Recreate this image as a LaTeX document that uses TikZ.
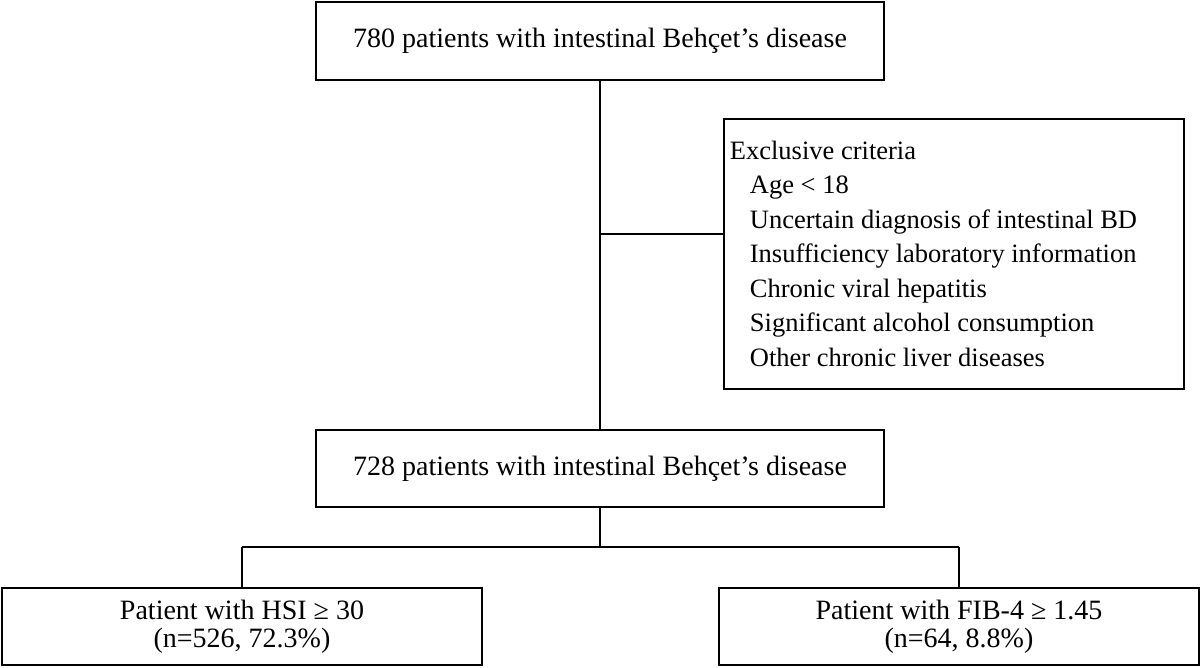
\documentclass[tikz,border=0pt]{standalone}
\usepackage{fontspec}
\setmainfont{Liberation Serif}
\begin{document}
\begin{tikzpicture}[x=1pt,y=-1pt,line width=1.8pt,
  bx/.style={draw,inner sep=0pt,font=\fontsize{28}{34}\selectfont,align=center}]
\useasboundingbox (0,0) rectangle (1200,667);
\node[bx,minimum width=568pt,minimum height=78pt] (top) at (600,41) {780 patients with intestinal Behçet’s disease};
\node[bx,minimum width=460pt,minimum height=270pt,align=flush left,text width=448pt,inner xsep=6pt,anchor=north west,font=\fontsize{26.5}{34.5}\selectfont] (ex) at (723,118) {Exclusive criteria\\
\hspace*{20pt}Age < 18\\
\hspace*{20pt}Uncertain diagnosis of intestinal BD\\
\hspace*{20pt}Insufficiency laboratory information\\
\hspace*{20pt}Chronic viral hepatitis\\
\hspace*{20pt}Significant alcohol consumption\\
\hspace*{20pt}Other chronic liver diseases};
\node[bx,minimum width=568pt,minimum height=77pt] (mid) at (600,468.5) {728 patients with intestinal Behçet’s disease};
\node[bx,minimum width=480pt,minimum height=77pt,font=\fontsize{28}{28}\selectfont] (bl) at (242,626.5) {Patient with HSI ≥ 30\\(n=526, 72.3\%)};
\node[bx,minimum width=480pt,minimum height=77pt,font=\fontsize{28}{28}\selectfont] (br) at (959,626.5) {Patient with FIB-4 ≥ 1.45\\(n=64, 8.8\%)};
\draw (top.south) -- (mid.north);
\coordinate (j) at (600,234);
\draw (j) -- (ex.west |- j);
\coordinate (s) at (600,547);
\draw (mid.south) -- (s);
\draw (bl.north |- s) -- (br.north |- s);
\draw (bl.north |- s) -- (bl.north);
\draw (br.north |- s) -- (br.north);
\end{tikzpicture}
\end{document}
